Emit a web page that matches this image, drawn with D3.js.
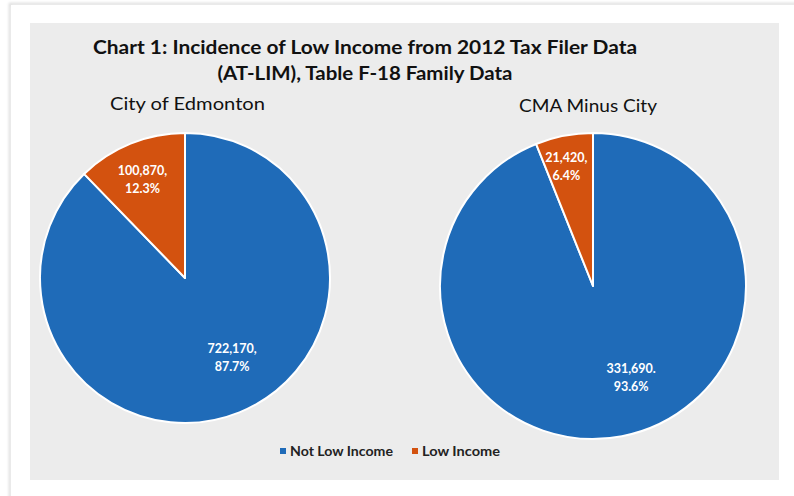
<!DOCTYPE html>
<html><head><meta charset="utf-8">
<script src="https://cdn.jsdelivr.net/npm/d3@7"></script>
<style>html,body{margin:0;padding:0;background:#fff;overflow:hidden}</style>
</head><body>
<svg id="chart" width="794" height="496"></svg>
<script>
// ---- data ----
const categories = ["Not Low Income", "Low Income"];
const regions = ["City of Edmonton", "CMA Minus City"];
const counts = [[722170, 100870], [331690, 21420]];
const percents = [[87.7, 12.3], [93.6, 6.4]];
const valueLabels = [["722,170,", "100,870,"], ["331,690.", "21,420,"]];
const titleLines = ["Chart 1: Incidence of Low Income from 2012 Tax Filer Data", "(AT-LIM), Table F-18 Family Data"];

// ---- styles / layout ----
const colors = ["#1f6bb8", "#d3520f"];
const font = "Lato, 'Open Sans', sans-serif";
const W = 794, H = 496;
const svg = d3.select("#chart");

const defs = svg.append("defs");
const f = defs.append("filter").attr("id","sh").attr("x","-5%").attr("y","-5%").attr("width","110%").attr("height","110%");
f.append("feGaussianBlur").attr("stdDeviation", 1.5);

// outer card shadow
svg.append("rect").attr("x",10).attr("y",4).attr("width",800).attr("height",510)
  .attr("fill","none").attr("stroke","#d4d4d4").attr("stroke-width",2).attr("filter","url(#sh)");
svg.append("rect").attr("x",11).attr("y",5).attr("width",800).attr("height",510).attr("fill","#fff");

// panel
svg.append("rect").attr("x",30).attr("y",23).attr("width",749).attr("height",457).attr("fill","#ececec");

// title
const titleSpec = [{y:54, w:544}, {y:80, w:295}];
titleLines.forEach((t,i)=>{
  svg.append("text").attr("x",365).attr("y",titleSpec[i].y).attr("text-anchor","middle")
    .attr("font-family",font).attr("font-weight","bold").attr("font-size",19).attr("fill","#111")
    .attr("textLength",titleSpec[i].w).attr("lengthAdjust","spacingAndGlyphs").text(t);
});

// pies
const pies = [
  {cx:185, cy:278, r:145, sub:{x:187.5, y:110, w:155}, lab:[{ang:-9, k:0.63},{ang:-1, k:0.75}]},
  {cx:593, cy:286, r:153, sub:{x:588, y:112, w:138}, lab:[{ang:-12, k:0.64},{ang:-1.5, k:0.81}]}
];
const pie = d3.pie().sort(null).value(d=>d);
const arc = d3.arc().innerRadius(0);

pies.forEach((p,pi)=>{
  svg.append("text").attr("x",p.sub.x).attr("y",p.sub.y).attr("text-anchor","middle")
    .attr("font-family",font).attr("font-size",17).attr("fill","#111")
    .attr("textLength",p.sub.w).attr("lengthAdjust","spacingAndGlyphs").text(regions[pi]);
  const g = svg.append("g").attr("transform",`translate(${p.cx},${p.cy})`);
  const arcs = pie(counts[pi]);
  g.selectAll("path").data(arcs).join("path")
    .attr("d", d=>arc.outerRadius(p.r)(d))
    .attr("fill",(d,i)=>colors[i]).attr("stroke","#fff").attr("stroke-width",2).attr("stroke-linejoin","round");
  arcs.forEach((d,i)=>{
    const a = (d.startAngle+d.endAngle)/2 + p.lab[i].ang*Math.PI/180;
    const rr = p.r*p.lab[i].k;
    const x = rr*Math.sin(a), y = -rr*Math.cos(a);
    const t = g.append("text").attr("text-anchor","middle").attr("font-family",font)
      .attr("font-weight","bold").attr("font-size",12.5).attr("fill","#fff");
    t.append("tspan").attr("x",x).attr("y",y-3).text(valueLabels[pi][i]);
    t.append("tspan").attr("x",x).attr("y",y+15).text(percents[pi][i].toFixed(1)+"%");
  });
});

// legend
const legendSpec = [{x:280, w:103}, {x:412, w:78}];
categories.forEach((c,i)=>{
  svg.append("rect").attr("x",legendSpec[i].x).attr("y",448).attr("width",6).attr("height",6).attr("fill",colors[i]);
  svg.append("text").attr("x",legendSpec[i].x+10).attr("y",456).attr("font-family",font).attr("font-weight","bold")
    .attr("font-size",12.5).attr("fill","#222").attr("textLength",legendSpec[i].w).attr("lengthAdjust","spacingAndGlyphs").text(c);
});
</script>
</body></html>
